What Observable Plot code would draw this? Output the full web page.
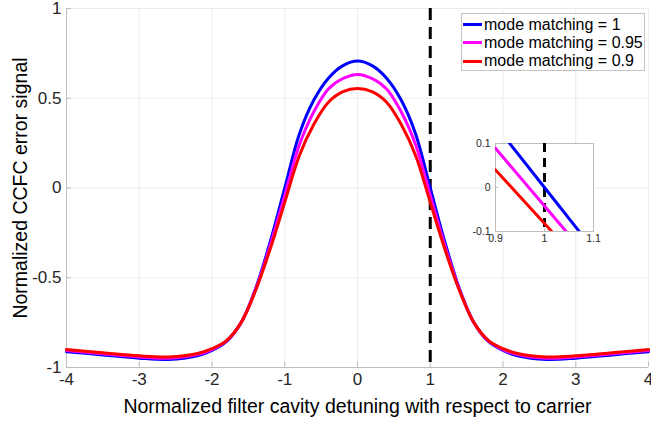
<!DOCTYPE html>
<html>
<head>
<meta charset="utf-8">
<script src="https://cdn.jsdelivr.net/npm/d3@7"></script>
<script src="https://cdn.jsdelivr.net/npm/@observablehq/plot@0.6"></script>
<style>
  html, body { margin: 0; padding: 0; background: #ffffff; }
  #wrap { position: relative; width: 651px; height: 424px; overflow: hidden;
          font-family: "Liberation Sans", Arial, Helvetica, sans-serif; }
  #main { position: absolute; left: 0; top: 0; }
  #inset { position: absolute; left: 465px; top: 137px; }
  #legend { position: absolute; left: 461px; top: 13px; width: 184px; height: 58px;
            box-sizing: border-box; border: 1px solid #c4c4c4; background: #ffffff; }
  .row { position: absolute; left: 0; height: 18px; line-height: 18px; font-size: 16px; color: #000; white-space: nowrap; }
  .sw { position: absolute; left: 1px; top: 7.5px; width: 19px; height: 3px; }
  .lab { position: absolute; left: 22px; top: 0; }
</style>
</head>
<body>
<div id="wrap">
  <div id="main"></div>
  <div id="inset"></div>
  <div id="legend"></div>
</div>
<script>
// ---------------- data ----------------
const seriesNames = ["mode matching = 1", "mode matching = 0.95", "mode matching = 0.9"];
const seriesColors = ["#0000ff", "#ff00ff", "#ff0000"];

const detuning = [-4, -3.5, -3, -2.6, -2.2, -2, -1.8, -1.6, -1.4, -1.2, -1, -0.8, -0.6, -0.4, -0.2, 0,
                  0.2, 0.4, 0.6, 0.8, 1, 1.2, 1.4, 1.6, 1.8, 2, 2.2, 2.6, 3, 3.5, 4];

const mm100 = [-0.912, -0.93, -0.948, -0.955, -0.935, -0.905, -0.855, -0.75, -0.56, -0.30, 0.0, 0.30, 0.49, 0.612, 0.682, 0.707,
               0.682, 0.612, 0.49, 0.30, 0.0, -0.30, -0.56, -0.75, -0.855, -0.905, -0.935, -0.955, -0.948, -0.93, -0.912];
const mm095 = [-0.906, -0.924, -0.941, -0.948, -0.928, -0.90, -0.852, -0.75, -0.565, -0.32, -0.042, 0.24, 0.425, 0.552, 0.61, 0.633,
               0.61, 0.552, 0.425, 0.24, -0.042, -0.32, -0.565, -0.75, -0.852, -0.90, -0.928, -0.948, -0.941, -0.924, -0.906];
const mm090 = [-0.90, -0.918, -0.935, -0.941, -0.922, -0.895, -0.85, -0.75, -0.57, -0.34, -0.08, 0.18, 0.355, 0.478, 0.537, 0.555,
               0.537, 0.478, 0.355, 0.18, -0.08, -0.34, -0.57, -0.75, -0.85, -0.895, -0.922, -0.941, -0.935, -0.918, -0.90];

// zoomed inset values around detuning = 1
const insetDetuning = [0.9, 1.0, 1.1];
const insetMM100 = [0.141, 0.0, -0.141];
const insetMM095 = [0.089, -0.042, -0.173];
const insetMM090 = [0.040, -0.082, -0.204];

const markerX = [1];

const xDomain = [-4, 4];
const yDomain = [-1, 1];
const xTicks = [-4, -3, -2, -1, 0, 1, 2, 3, 4];
const yTicks = [-1, -0.5, 0, 0.5, 1];
const insetXDomain = [0.9, 1.1];
const insetYDomain = [-0.1, 0.1];
const insetXTicks = [0.9, 1, 1.1];
const insetYTicks = [-0.1, 0, 0.1];

const xTitle = "Normalized filter cavity detuning with respect to carrier";
const yTitle = "Normalized CCFC error signal";

// ---------------- build ----------------
const allValues = [mm100, mm095, mm090];
const allInset = [insetMM100, insetMM095, insetMM090];
const rows = seriesNames.flatMap((name, s) => detuning.map((x, i) => ({x, y: allValues[s][i], name})));
const insetRows = seriesNames.flatMap((name, s) => insetDetuning.map((x, i) => ({x, y: allInset[s][i], name})));

const fmt = d => String(d);
const axisGray = "#bdbdbd";
const gridGray = "#ebebeb";
const font = '"Liberation Sans", Arial, Helvetica, sans-serif';

const W = 651, H = 424, mL = 66, mR = 3, mT = 8, mB = 57;
const fw = W - mL - mR, fh = H - mT - mB;

const main = Plot.plot({
  width: W, height: H, marginLeft: mL, marginRight: mR, marginTop: mT, marginBottom: mB,
  style: {fontFamily: font, fontSize: "17px", color: "#262626", background: "transparent"},
  x: {domain: xDomain},
  y: {domain: yDomain},
  color: {domain: seriesNames, range: seriesColors},
  marks: [
    Plot.gridX(xTicks, {stroke: gridGray, strokeOpacity: 1}),
    Plot.gridY(yTicks, {stroke: gridGray, strokeOpacity: 1}),
    Plot.ruleX([xDomain[0]], {stroke: axisGray}),
    Plot.ruleY([yDomain[0]], {stroke: axisGray}),
    Plot.ruleX(xTicks, {x: d => d, insetTop: fh - 5, stroke: axisGray}),
    Plot.ruleY(yTicks, {y: d => d, insetRight: fw - 5, stroke: axisGray}),
    Plot.axisX(xTicks, {tickSize: 0, tickPadding: 5, tickFormat: fmt, label: null, fill: "#262626"}),
    Plot.axisY(yTicks, {tickSize: 0, tickPadding: 5, tickFormat: fmt, label: null, fill: "#262626"}),
    Plot.ruleX(markerX, {stroke: "#000", strokeWidth: 3, strokeDasharray: "12,7"}),
    Plot.line(rows, {x: "x", y: "y", stroke: "name", z: "name", strokeWidth: 3, curve: "catmull-rom"}),
    Plot.text([xTitle], {text: d => d, frameAnchor: "bottom", textAnchor: "middle", dy: 45, fontSize: 19.5, fill: "#000"}),
    Plot.text([yTitle], {text: d => d, frameAnchor: "left", textAnchor: "middle", dx: -46, rotate: -90, fontSize: 19.5, fill: "#000"})
  ]
});
document.getElementById("main").appendChild(main);

const iW = 138, iH = 110, iL = 30, iR = 10, iT = 6, iB = 16;
const ifw = iW - iL - iR, ifh = iH - iT - iB;
const inset = Plot.plot({
  width: iW, height: iH, marginLeft: iL, marginRight: iR, marginTop: iT, marginBottom: iB,
  style: {fontFamily: font, fontSize: "10.5px", color: "#262626", background: "transparent", overflow: "visible"},
  x: {domain: insetXDomain},
  y: {domain: insetYDomain},
  color: {domain: seriesNames, range: seriesColors},
  marks: [
    Plot.frame({fill: "#ffffff", stroke: axisGray}),
    Plot.ruleX(insetXTicks, {x: d => d, insetTop: ifh - 3, stroke: axisGray}),
    Plot.ruleY(insetYTicks, {y: d => d, insetRight: ifw - 3, stroke: axisGray}),
    Plot.axisX(insetXTicks, {tickSize: 0, tickPadding: 3, tickFormat: fmt, label: null, fill: "#262626"}),
    Plot.axisY(insetYTicks, {tickSize: 0, tickPadding: 5, tickFormat: fmt, label: null, fill: "#262626"}),
    Plot.ruleX(markerX, {stroke: "#000", strokeWidth: 3, strokeDasharray: "9,6"}),
    Plot.line(insetRows, {x: "x", y: "y", stroke: "name", z: "name", strokeWidth: 3, clip: true})
  ]
});
document.getElementById("inset").appendChild(inset);

// legend
const legend = document.getElementById("legend");
seriesNames.forEach((name, i) => {
  const row = document.createElement("div");
  row.className = "row";
  row.style.top = (1.5 + i * 18.35) + "px";
  const sw = document.createElement("div");
  sw.className = "sw";
  sw.style.background = seriesColors[i];
  const lab = document.createElement("span");
  lab.className = "lab";
  lab.textContent = name;
  row.appendChild(sw);
  row.appendChild(lab);
  legend.appendChild(row);
});
</script>
</body>
</html>
